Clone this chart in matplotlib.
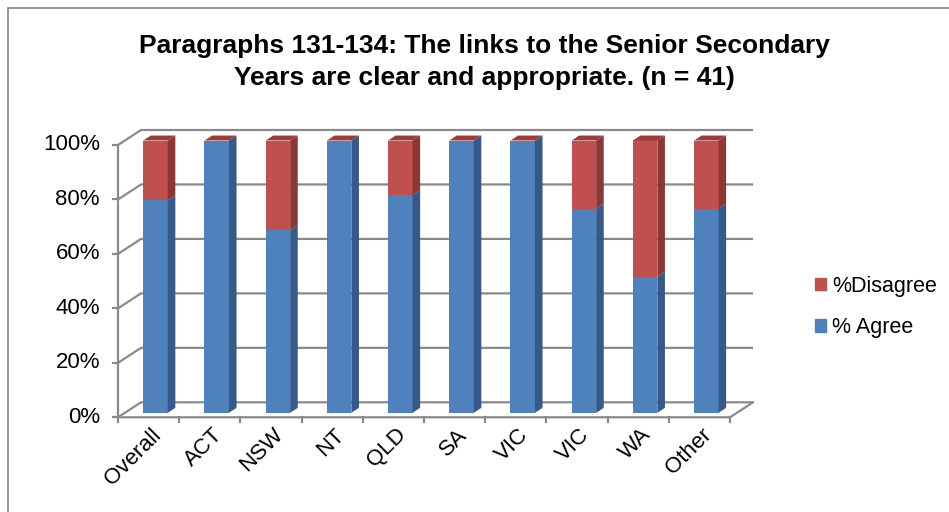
import numpy as np
import matplotlib.pyplot as plt
from matplotlib.patches import Patch, Rectangle

plt.rcParams['font.family'] = ['Liberation Sans', 'DejaVu Sans']

categories = ['Overall', 'ACT', 'NSW', 'NT', 'QLD', 'SA', 'VIC', 'VIC', 'WA', 'Other']
agree = [78, 100, 67, 100, 80, 100, 100, 75, 50, 75]
disagree = [22, 0, 33, 0, 20, 0, 0, 25, 50, 25]
yticks = [0, 20, 40, 60, 80, 100]
title = 'Paragraphs 131-134: The links to the Senior Secondary\nYears are clear and appropriate. (n = 41)'

W, H = 949, 512
fig = plt.figure(figsize=(W / 100, H / 100), dpi=100)
ax = fig.add_axes([0, 0, 1, 1])

# pixel scale of the front plane
pcat = 61.2
ppct = 2.723
x0 = 118
y0 = 417.3
ax.set_xlim(-0.5 - x0 / pcat, -0.5 + (W - x0) / pcat)
ax.set_ylim((y0 - H) / ppct, y0 / ppct)
ax.axis('off')

# depth direction of the fake 3d box
DX = 23 / pcat
DY = 15 / ppct


def proj(x, y, d):
    return x + DX * d, y + DY * d


grid = '#8a8a8a'
n = len(categories)
xl, xr = -0.5, n - 0.5

# walls and grid
for t in yticks:
    xa, ya = proj(xl, t, 0)
    xb, yb = proj(xl, t, 1)
    xc, yc = proj(xr, t, 1)
    ax.plot([xa, xb, xc], [ya, yb, yc], color=grid, lw=1.6, zorder=1,
            solid_capstyle='butt')
    ax.plot([xl - 5 / pcat, xl], [t, t], color=grid, lw=1.6, zorder=1)
    ax.text(xl - 18 / pcat, t, f'{t}%', ha='right', va='center', fontsize=16)

ax.plot([xl, xl], [0, 100], color=grid, lw=1.6, zorder=1)
xe, ye = proj(xr, 0, 1)
ax.plot([xl, xr, xe], [0, 0, ye], color=grid, lw=1.6, zorder=1)
for i in range(n + 1):
    ax.plot([i - 0.5, i - 0.5], [0, -5 / ppct], color=grid, lw=1.6, zorder=1)

for i, c in enumerate(categories):
    ax.text(i + 2 / pcat, -7 / ppct, c, rotation=45, rotation_mode='anchor',
            ha='right', va='top', fontsize=16)

# bars
blue, blue_side = '#4f81bd', '#35598a'
red, red_side, red_top = '#c0504d', '#8c3735', '#9e3b38'
w = 0.4
df = 0.3
dep = 0.33
xs = np.arange(n) + DX * df
base = DY * df
ax.bar(xs, agree, w, bottom=base, color=blue, zorder=3)
ax.bar(xs, disagree, w, bottom=base + np.array(agree), color=red, zorder=3)

for x, a, dz in zip(xs, agree, disagree):
    right = x + w / 2
    left = x - w / 2
    for b, top, col in [(0, a, blue_side), (a, a + dz, red_side)]:
        if top <= b:
            continue
        px = [right, right + DX * dep, right + DX * dep, right]
        py = [base + b, base + b + DY * dep, base + top + DY * dep, base + top]
        ax.fill(px, py, color=col, lw=0, zorder=3)
    t = base + a + dz
    ax.fill([left, right, right + DX * dep, left + DX * dep],
            [t, t, t + DY * dep, t + DY * dep], color=red_top, lw=0, zorder=3)

fig.text(484.5 / W, 1 - 62 / H, title, ha='center', va='center',
         fontsize=19, fontweight='bold', linespacing=1.42)

handles = [Patch(color=red), Patch(color=blue)]
ax.legend(handles, ['%Disagree', '% Agree'], loc='center left',
          bbox_to_anchor=(815 / W, 1 - 307 / H), bbox_transform=fig.transFigure,
          frameon=False, fontsize=15.5, handlelength=0.5, handleheight=0.5,
          handletextpad=0.3, labelspacing=0.95, borderpad=0, borderaxespad=0)

fig.patches.append(Rectangle((8 / W, -0.1), 1.2, 1.1 - 8 / H, transform=fig.transFigure,
                             fill=False, ec='#8c8c8c', lw=1.3))

fig.savefig('out.png', dpi=100)
